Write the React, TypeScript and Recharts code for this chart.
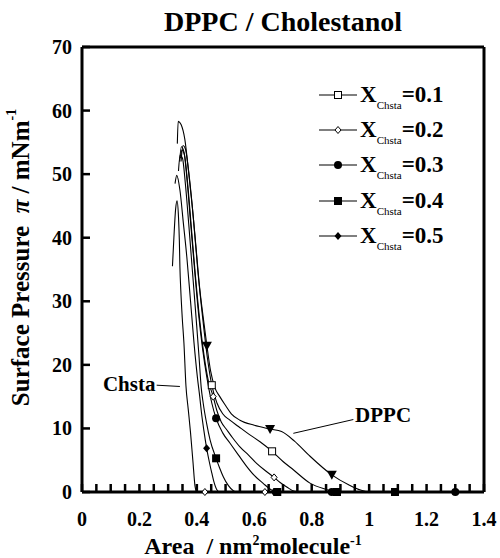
import React from 'react';
import {
  ComposedChart,
  Line,
  Scatter,
  XAxis,
  YAxis,
  ReferenceLine,
  ReferenceDot,
  Legend,
  Label,
} from 'recharts';

type Pt = [number, number];

const FONT = "'Liberation Serif', 'Times New Roman', serif";

// axis ticks
const AREA_TICKS = [
  0, 0.05, 0.1, 0.15, 0.2, 0.25, 0.3, 0.35, 0.4, 0.45, 0.5, 0.55, 0.6, 0.65, 0.7,
  0.75, 0.8, 0.85, 0.9, 0.95, 1, 1.05, 1.1, 1.15, 1.2, 1.25, 1.3, 1.35, 1.4,
];
const AREA_LABELS = [0, 0.2, 0.4, 0.6, 0.8, 1, 1.2, 1.4];
const PRESSURE_TICKS = [0, 10, 20, 30, 40, 50, 60, 70];

// isotherms: [area nm2/molecule, surface pressure mN/m]
const DPPC: Pt[] = [
  [0.345, 52], [0.352, 54.5], [0.36, 54], [0.37, 51], [0.384, 45], [0.398, 38],
  [0.41, 32], [0.422, 27.5], [0.435, 23], [0.448, 19], [0.462, 16.5], [0.48, 15],
  [0.5, 13.6], [0.52, 12.3], [0.55, 11.3], [0.6, 10.5], [0.655, 9.9], [0.695, 9.5],
  [0.74, 8], [0.79, 5.8], [0.87, 2.7], [0.93, 1.1], [0.97, 0.3], [1.0, 0], [1.4, 0],
];
const X01: Pt[] = [
  [0.332, 54.8], [0.335, 58.3], [0.345, 57.8], [0.358, 55.5], [0.372, 50], [0.388, 43],
  [0.403, 35], [0.42, 27.5], [0.437, 21], [0.452, 16.8], [0.47, 14], [0.49, 12.3],
  [0.515, 11.3], [0.545, 10.3], [0.575, 9.3], [0.62, 7.9], [0.662, 6.4], [0.7, 4.8],
  [0.736, 3.5], [0.794, 1.4], [0.85, 0.4], [0.88, 0], [1.4, 0],
];
const X02: Pt[] = [
  [0.343, 52.5], [0.348, 53.8], [0.357, 53], [0.368, 48.5], [0.381, 41.5], [0.395, 34],
  [0.41, 27], [0.425, 21.5], [0.44, 17.5], [0.457, 15], [0.469, 12.9], [0.485, 11],
  [0.504, 9.8], [0.525, 8.5], [0.55, 7.1], [0.58, 5.8], [0.608, 4.5], [0.64, 3.3],
  [0.669, 2.3], [0.69, 1.5], [0.713, 0.8], [0.74, 0.1], [0.76, 0], [1.4, 0],
];
const X03: Pt[] = [
  [0.34, 52], [0.346, 54.3], [0.355, 53.5], [0.366, 49], [0.378, 42.5], [0.392, 35],
  [0.406, 28], [0.42, 22.5], [0.435, 18], [0.452, 14], [0.467, 11.6], [0.49, 9.3],
  [0.515, 7.7], [0.545, 5.8], [0.574, 4], [0.6, 2.6], [0.63, 1.4], [0.66, 0.3],
  [0.68, 0], [1.4, 0],
];
const X04: Pt[] = [
  [0.336, 50.5], [0.342, 53], [0.35, 52.5], [0.36, 48.5], [0.372, 42], [0.385, 34.5],
  [0.398, 27], [0.408, 21], [0.415, 16.5], [0.422, 14], [0.434, 10.8], [0.446, 8.2],
  [0.467, 5.3], [0.48, 3.7], [0.492, 2.4], [0.51, 1], [0.527, 0.2], [0.54, 0], [1.4, 0],
];
const X05: Pt[] = [
  [0.324, 48.5], [0.33, 49.8], [0.341, 47.5], [0.353, 42.3], [0.365, 37], [0.378, 30],
  [0.39, 23.5], [0.402, 18], [0.41, 15], [0.416, 12.5], [0.424, 9.8], [0.434, 6.9],
  [0.444, 4.6], [0.452, 3], [0.46, 1.5], [0.469, 0.4], [0.48, 0], [1.4, 0],
];
const CHSTA: Pt[] = [
  [0.315, 35.5], [0.32, 40], [0.326, 44.5], [0.331, 45.8], [0.336, 43.3], [0.339, 39.6],
  [0.341, 35.4], [0.344, 31.8], [0.349, 27.5], [0.355, 23.4], [0.362, 16.7], [0.37, 13],
  [0.378, 9.3], [0.386, 5], [0.394, 0.8], [0.4, 0], [0.44, 0],
];

// marker positions on each isotherm
const DPPC_MARKS: Pt[] = [[0.435, 23], [0.655, 9.9], [0.87, 2.7]];
const X01_MARKS: Pt[] = [[0.452, 16.8], [0.662, 6.4]];
const X02_MARKS: Pt[] = [[0.428, 0], [0.457, 15], [0.637, 0], [0.669, 2.3]];
const X03_MARKS: Pt[] = [[0.467, 11.6], [0.675, 0], [0.87, 0], [1.3, 0]];
const X04_MARKS: Pt[] = [[0.467, 5.3], [0.68, 0], [0.888, 0], [1.09, 0]];
const X05_MARKS: Pt[] = [[0.434, 6.9]];

type Shape = 'openSquare' | 'openDiamond' | 'circle' | 'square' | 'diamond' | 'triangleDown';

const SERIES: { key: string; label?: string; curve: Pt[]; marks: Pt[]; shape?: Shape }[] = [
  { key: 'chsta', curve: CHSTA, marks: [] },
  { key: 'dppc', curve: DPPC, marks: DPPC_MARKS, shape: 'triangleDown' },
  { key: 'x01', label: '0.1', curve: X01, marks: X01_MARKS, shape: 'openSquare' },
  { key: 'x02', label: '0.2', curve: X02, marks: X02_MARKS, shape: 'openDiamond' },
  { key: 'x03', label: '0.3', curve: X03, marks: X03_MARKS, shape: 'circle' },
  { key: 'x04', label: '0.4', curve: X04, marks: X04_MARKS, shape: 'square' },
  { key: 'x05', label: '0.5', curve: X05, marks: X05_MARKS, shape: 'diamond' },
];

const toRows = (pts: Pt[]) => pts.map(([a, p]) => ({ a, p }));

function Marker({ shape, cx, cy }: { shape?: Shape; cx: number; cy: number }) {
  switch (shape) {
    case 'openSquare':
      return <rect x={cx - 3.5} y={cy - 3.5} width={7} height={7} fill="#fff" stroke="#000" strokeWidth={1} />;
    case 'openDiamond':
      return (
        <polygon
          points={`${cx},${cy - 3.5} ${cx + 3},${cy} ${cx},${cy + 3.5} ${cx - 3},${cy}`}
          fill="#fff"
          stroke="#000"
          strokeWidth={1}
        />
      );
    case 'circle':
      return <circle cx={cx} cy={cy} r={4} fill="#000" />;
    case 'square':
      return <rect x={cx - 4} y={cy - 4} width={8} height={8} fill="#000" />;
    case 'diamond':
      return <polygon points={`${cx},${cy - 4} ${cx + 3.5},${cy} ${cx},${cy + 4} ${cx - 3.5},${cy}`} fill="#000" />;
    case 'triangleDown':
      return <polygon points={`${cx - 5},${cy - 4} ${cx + 5},${cy - 4} ${cx},${cy + 5}`} fill="#000" />;
    default:
      return null;
  }
}

const fmtArea = (v: number) => (Math.abs(v - Math.round(v)) < 1e-6 ? String(Math.round(v)) : v.toFixed(1));

function AreaTick(props: any) {
  const { x, y, payload } = props;
  const v = payload.value as number;
  const major = AREA_LABELS.some((l) => Math.abs(l - v) < 1e-6);
  return (
    <g>
      <line x1={x} x2={x} y1={y} y2={y - 8} stroke="#000" strokeWidth={2.5} />
      {major && (
        <text x={x} y={y + 34} textAnchor="middle" fontFamily={FONT} fontWeight="bold" fontSize={20} fill="#000">
          {fmtArea(v)}
        </text>
      )}
    </g>
  );
}

function PressureTick(props: any) {
  const { x, y, payload } = props;
  return (
    <g>
      <line x1={x} x2={x + 8} y1={y} y2={y} stroke="#000" strokeWidth={2.5} />
      <text x={x - 10} y={y + 7} textAnchor="end" fontFamily={FONT} fontWeight="bold" fontSize={20} fill="#000">
        {payload.value}
      </text>
    </g>
  );
}

function AreaLabel(props: any) {
  const { viewBox } = props;
  const cx = viewBox.x + viewBox.width / 2 - 30;
  const y = viewBox.y + 62;
  return (
    <text x={cx} y={y} textAnchor="middle" fontFamily={FONT} fontWeight="bold" fontSize={24} fill="#000" style={{ whiteSpace: 'pre' }}>
      {'Area  / nm'}
      <tspan dy={-9} fontSize={14}>2</tspan>
      <tspan dy={9}>molecule</tspan>
      <tspan dy={-9} fontSize={14}>-1</tspan>
    </text>
  );
}

function PressureLabel(props: any) {
  const { viewBox } = props;
  const cx = 20;
  const cy = viewBox.y + viewBox.height / 2 - 12;
  return (
    <text
      x={cx}
      y={cy}
      transform={`rotate(-90 ${cx} ${cy})`}
      textAnchor="middle"
      dominantBaseline="central"
      fontFamily={FONT}
      fontWeight="bold"
      fontSize={25}
      fill="#000"
      style={{ whiteSpace: 'pre' }}
    >
      {'Surface Pressure  '}
      <tspan fontStyle="italic">π</tspan>
      {' / mNm'}
      <tspan dy={-9} fontSize={14}>-1</tspan>
    </text>
  );
}

function LegendBox() {
  const rows = SERIES.filter((s) => s.label);
  return (
    <div style={{ fontFamily: FONT, color: '#000' }}>
      {rows.map((s) => (
        <div key={s.key} style={{ height: 35.3, display: 'flex', alignItems: 'center' }}>
          <svg width={40} height={14} style={{ display: 'block' }}>
            <line x1={1} x2={39} y1={7} y2={7} stroke="#000" strokeWidth={1.2} />
            <Marker shape={s.shape} cx={20} cy={7} />
          </svg>
          <span style={{ fontSize: 23, fontWeight: 'bold', marginLeft: 2, whiteSpace: 'nowrap' }}>
            X
            <span style={{ fontSize: 11, fontWeight: 'normal', position: 'relative', top: 7 }}>Chsta</span>
            =
            {s.label}
          </span>
        </div>
      ))}
    </div>
  );
}

export default function App() {
  return (
    <div style={{ position: 'relative', width: 500, height: 558, background: '#fff' }}>
      <style>{'body{margin:0;background:#fff}'}</style>
      <div
        style={{
          position: 'absolute',
          top: 8,
          left: 82,
          width: 402,
          textAlign: 'center',
          fontFamily: FONT,
          fontWeight: 'bold',
          fontSize: 28,
          lineHeight: '28px',
          color: '#000',
          zIndex: 2,
        }}
      >
        DPPC / Cholestanol
      </div>
      <ComposedChart width={500} height={558} margin={{ top: 47, right: 16, bottom: 0, left: 0 }}>
        <XAxis
          dataKey="a"
          type="number"
          domain={[0, 1.4]}
          ticks={AREA_TICKS}
          interval={0}
          height={66}
          tickSize={0}
          tickMargin={0}
          tick={<AreaTick />}
          axisLine={{ stroke: '#000', strokeWidth: 3 }}
          tickLine={false}
        >
          <Label content={<AreaLabel />} />
        </XAxis>
        <YAxis
          type="number"
          domain={[0, 70]}
          ticks={PRESSURE_TICKS}
          interval={0}
          width={82}
          tickSize={0}
          tickMargin={0}
          tick={<PressureTick />}
          axisLine={{ stroke: '#000', strokeWidth: 3 }}
          tickLine={false}
        >
          <Label content={<PressureLabel />} />
        </YAxis>
        <ReferenceLine y={70} stroke="#000" strokeWidth={3} />
        <ReferenceLine x={1.4} stroke="#000" strokeWidth={3} />

        {SERIES.map((s) => (
          <Line
            key={s.key}
            data={toRows(s.curve)}
            dataKey="p"
            type="monotone"
            stroke="#000"
            strokeWidth={1.1}
            dot={false}
            activeDot={false}
            isAnimationActive={false}
          />
        ))}
        {SERIES.filter((s) => s.marks.length > 0).map((s) => (
          <Scatter
            key={`${s.key}-m`}
            data={toRows(s.marks)}
            dataKey="p"
            isAnimationActive={false}
            shape={(p: any) => <Marker shape={s.shape} cx={p.cx} cy={p.cy} />}
          />
        ))}

        <ReferenceLine segment={[{ x: 0.26, y: 16.8 }, { x: 0.341, y: 16.6 }]} stroke="#000" strokeWidth={1} />
        <ReferenceLine segment={[{ x: 0.736, y: 9.23 }, { x: 0.945, y: 11.4 }]} stroke="#000" strokeWidth={1} />
        <ReferenceDot
          x={0.073}
          y={15.9}
          shape={(p: any) => (
            <text x={p.cx} y={p.cy} fontFamily={FONT} fontWeight="bold" fontSize={21} fill="#000">
              Chsta
            </text>
          )}
        />
        <ReferenceDot
          x={0.951}
          y={11.06}
          shape={(p: any) => (
            <text x={p.cx} y={p.cy} fontFamily={FONT} fontWeight="bold" fontSize={21} fill="#000">
              DPPC
            </text>
          )}
        />
        <Legend
          layout="vertical"
          align="center"
          verticalAlign="middle"
          wrapperStyle={{ top: 77, left: 318, width: 170 }}
          content={() => <LegendBox />}
        />
      </ComposedChart>
    </div>
  );
}
